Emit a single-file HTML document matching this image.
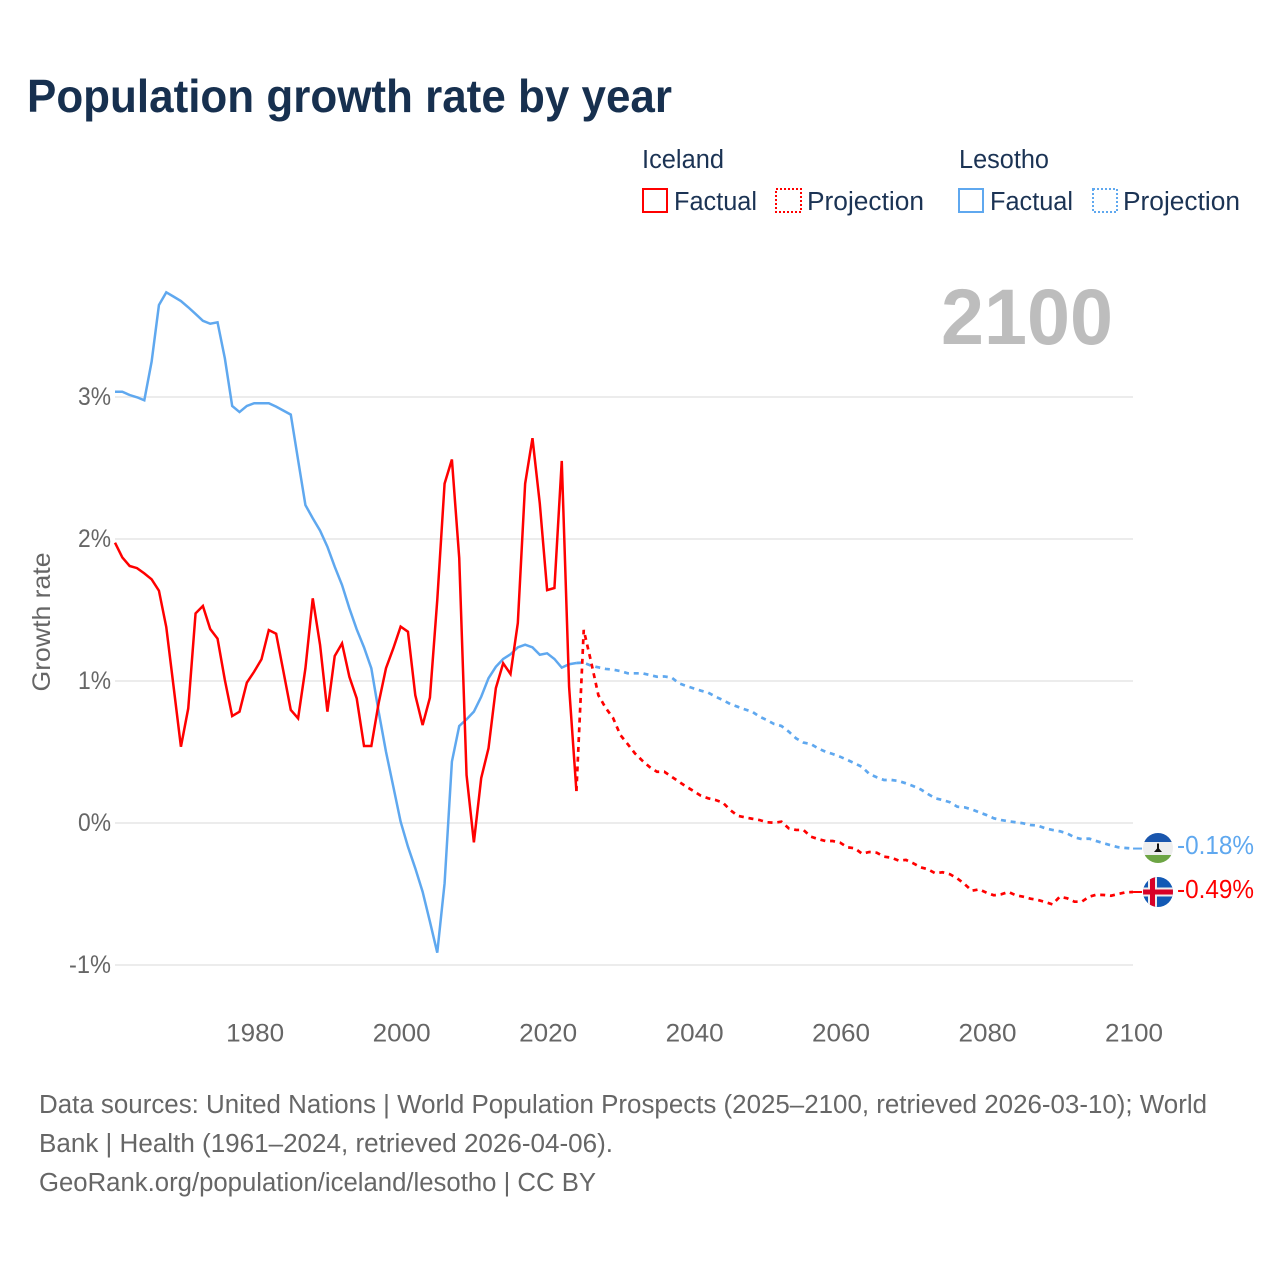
<!DOCTYPE html>
<html lang="en">
<head>
<meta charset="utf-8">
<title>Population growth rate by year</title>
<style>
html,body{margin:0;padding:0;background:#fff;}
svg{display:block;font-family:"Liberation Sans",sans-serif;}
</style>
</head>
<body>
<svg id="chart" xmlns="http://www.w3.org/2000/svg" width="1280" height="1280" viewBox="0 0 1280 1280">
  <defs>
    <clipPath id="flag-clip-lesotho"><circle cx="1158" cy="848" r="15"/></clipPath>
    <clipPath id="flag-clip-iceland"><circle cx="1158" cy="892" r="15"/></clipPath>
  </defs>
  <rect width="1280" height="1280" fill="#fff"/>
  <text x="27" y="112" font-size="46" font-weight="700" fill="#17304f" textLength="645" lengthAdjust="spacingAndGlyphs">Population growth rate by year</text>

  <g font-size="25.5" fill="#1b3354">
    <text x="642" y="168" textLength="82" lengthAdjust="spacingAndGlyphs">Iceland</text>
    <text x="959" y="168" textLength="90" lengthAdjust="spacingAndGlyphs">Lesotho</text>
    <rect x="643" y="189" width="24" height="23" fill="none" stroke="#ff0000" stroke-width="2"/>
    <text x="674" y="210" textLength="83" lengthAdjust="spacingAndGlyphs">Factual</text>
    <rect x="776" y="189" width="25" height="23" fill="none" stroke="#ff0000" stroke-width="2" stroke-dasharray="2 2"/>
    <text x="807" y="210" textLength="117" lengthAdjust="spacingAndGlyphs">Projection</text>
    <rect x="959" y="189" width="24" height="23" fill="none" stroke="#5fa8ef" stroke-width="2"/>
    <text x="990" y="210" textLength="83" lengthAdjust="spacingAndGlyphs">Factual</text>
    <rect x="1093" y="189" width="24" height="23" fill="none" stroke="#5fa8ef" stroke-width="2" stroke-dasharray="2 2"/>
    <text x="1123" y="210" textLength="117" lengthAdjust="spacingAndGlyphs">Projection</text>
  </g>

  <text x="1113" y="344" font-size="79" font-weight="700" fill="#bdbdbd" text-anchor="end" textLength="172" lengthAdjust="spacingAndGlyphs">2100</text>
  <text transform="translate(50,622) rotate(-90)" font-size="25" fill="#666" text-anchor="middle" textLength="139" lengthAdjust="spacingAndGlyphs">Growth rate</text>

  <g id="grid"></g>
  <g id="y-ticks" font-size="25" fill="#666" text-anchor="end"></g>
  <g id="x-ticks" font-size="25" fill="#666" text-anchor="middle"></g>
  <g id="series"></g>

  <g clip-path="url(#flag-clip-lesotho)">
    <rect x="1143" y="833" width="30" height="30" fill="#eeeeee"/>
    <rect x="1143" y="833" width="30" height="9" fill="#1a56ad"/>
    <rect x="1143" y="855" width="30" height="8" fill="#6da544"/>
    <path d="M1157 843.5h2v5l3 3.5h-8l3-3.5z" fill="#111"/>
  </g>
  <g clip-path="url(#flag-clip-iceland)">
    <rect x="1143" y="877" width="30" height="30" fill="#1259b5"/>
    <rect x="1148" y="877" width="9" height="30" fill="#eeeeee"/>
    <rect x="1143" y="887.5" width="30" height="9" fill="#eeeeee"/>
    <rect x="1150" y="877" width="5" height="30" fill="#d80027"/>
    <rect x="1143" y="889.5" width="30" height="5" fill="#d80027"/>
  </g>
  <text x="1177" y="854" font-size="25.5" fill="#5fa8ef" textLength="77" lengthAdjust="spacingAndGlyphs">-0.18%</text>
  <text x="1177" y="898" font-size="25.5" fill="#ff0000" textLength="77" lengthAdjust="spacingAndGlyphs">-0.49%</text>

  <g font-size="25.5" fill="#666">
    <text x="39" y="1113" textLength="1168" lengthAdjust="spacingAndGlyphs">Data sources: United Nations | World Population Prospects (2025–2100, retrieved 2026-03-10); World</text>
    <text x="39" y="1152" textLength="574" lengthAdjust="spacingAndGlyphs">Bank | Health (1961–2024, retrieved 2026-04-06).</text>
    <text x="39" y="1191" textLength="557" lengthAdjust="spacingAndGlyphs">GeoRank.org/population/iceland/lesotho | CC BY</text>
  </g>
</svg>
<script>
const factualStartYear = 1961;
const projectionStartYear = 2024;
const yTicks = [-1, 0, 1, 2, 3];
const yTickLabels = ["-1%", "0%", "1%", "2%", "3%"];
const xTicks = [1980, 2000, 2020, 2040, 2060, 2080, 2100];
const xTickLabels = ["1980", "2000", "2020", "2040", "2060", "2080", "2100"];

// Growth rate (%) per year, 1961-2024
const icelandFactual = [1.974,1.87,1.81,1.795,1.758,1.716,1.636,1.38,0.96,0.537,0.807,1.476,1.528,1.366,1.298,1.007,0.753,0.784,0.988,1.066,1.153,1.359,1.333,1.066,0.796,0.737,1.089,1.582,1.254,0.784,1.176,1.265,1.03,0.878,0.542,0.542,0.845,1.09,1.23,1.383,1.347,0.90,0.69,0.883,1.57,2.39,2.56,1.866,0.338,-0.136,0.316,0.527,0.95,1.125,1.049,1.408,2.39,2.71,2.25,1.64,1.655,2.55,0.96,0.225];
const lesothoFactual = [3.037,3.037,3.014,2.998,2.977,3.249,3.648,3.737,3.707,3.676,3.632,3.585,3.537,3.516,3.526,3.272,2.937,2.894,2.937,2.956,2.956,2.956,2.932,2.904,2.876,2.556,2.239,2.146,2.059,1.946,1.805,1.676,1.512,1.364,1.237,1.089,0.784,0.502,0.256,0.009,-0.167,-0.319,-0.484,-0.695,-0.913,-0.425,0.432,0.683,0.73,0.784,0.889,1.02,1.10,1.155,1.188,1.237,1.256,1.237,1.185,1.195,1.155,1.094,1.118,1.127];

// Growth rate (%) per year, 2024-2100
const icelandProjection = [0.225,1.36,1.136,0.90,0.81,0.74,0.62,0.556,0.49,0.439,0.394,0.361,0.361,0.326,0.291,0.256,0.225,0.192,0.174,0.162,0.143,0.092,0.051,0.04,0.03,0.021,0.005,0.002,0.009,-0.038,-0.049,-0.049,-0.096,-0.113,-0.127,-0.127,-0.138,-0.171,-0.178,-0.216,-0.204,-0.209,-0.237,-0.244,-0.265,-0.26,-0.284,-0.312,-0.326,-0.354,-0.347,-0.361,-0.39,-0.43,-0.477,-0.467,-0.491,-0.509,-0.502,-0.486,-0.509,-0.519,-0.533,-0.542,-0.556,-0.573,-0.519,-0.53,-0.554,-0.554,-0.519,-0.505,-0.507,-0.512,-0.5,-0.488,-0.486];
const lesothoProjection = [1.127,1.129,1.108,1.096,1.085,1.08,1.07,1.054,1.054,1.054,1.042,1.03,1.032,1.024,0.984,0.965,0.948,0.932,0.918,0.889,0.866,0.838,0.819,0.80,0.784,0.749,0.725,0.697,0.683,0.643,0.596,0.566,0.556,0.526,0.502,0.486,0.467,0.444,0.42,0.395,0.345,0.322,0.303,0.303,0.296,0.279,0.26,0.237,0.204,0.174,0.162,0.146,0.115,0.11,0.096,0.075,0.056,0.033,0.021,0.012,0.005,-0.002,-0.014,-0.018,-0.037,-0.049,-0.058,-0.073,-0.101,-0.113,-0.11,-0.127,-0.143,-0.157,-0.171,-0.176,-0.18];

const SVG_NS = 'http://www.w3.org/2000/svg';
const RED = '#ff0000';
const BLUE = '#5fa8ef';

function xScale(year) { return 115 + (year - 1961) * 7.324; }
function yScale(value) { return 823 - value * 142; }

function linePath(values, startYear) {
  return values.map(function (v, i) {
    return (i ? 'L' : 'M') + xScale(startYear + i).toFixed(2) + ' ' + yScale(v).toFixed(2);
  }).join('');
}

const gridGroup = document.getElementById('grid');
const yTickGroup = document.getElementById('y-ticks');
const xTickGroup = document.getElementById('x-ticks');
const seriesGroup = document.getElementById('series');

yTicks.forEach(function (tick, i) {
  const line = document.createElementNS(SVG_NS, 'line');
  
  
  line.setAttribute('x1', 115);
  line.setAttribute('x2', 1133);
  line.setAttribute('y1', yScale(tick));
  line.setAttribute('y2', yScale(tick));
  line.setAttribute('stroke', '#ececec');
  line.setAttribute('stroke-width', 2);
  gridGroup.appendChild(line);

  const label = document.createElementNS(SVG_NS, 'text');
  
  
  label.setAttribute('x', 111);
  label.setAttribute('y', yScale(tick) + 8);
  label.setAttribute('textLength', yTickLabels[i].length === 3 ? 42 : 33);
  label.setAttribute('lengthAdjust', 'spacingAndGlyphs');
  label.textContent = yTickLabels[i];
  yTickGroup.appendChild(label);
});

xTicks.forEach(function (tick, i) {
  const label = document.createElementNS(SVG_NS, 'text');
  
  
  label.setAttribute('x', xScale(tick) + 1);
  label.setAttribute('y', 1041.5);
  label.setAttribute('textLength', 58);
  label.setAttribute('lengthAdjust', 'spacingAndGlyphs');
  label.textContent = xTickLabels[i];
  xTickGroup.appendChild(label);
});

function drawLine(name, values, startYear, color, dashed) {
  const path = document.createElementNS(SVG_NS, 'path');
  
  
  path.setAttribute('d', linePath(values, startYear));
  path.setAttribute('fill', 'none');
  path.setAttribute('stroke', color);
  path.setAttribute('stroke-width', dashed ? 2.7 : 2.5);
  path.setAttribute('stroke-linejoin', 'miter');
  if (dashed) { path.setAttribute('stroke-dasharray', '5 4.8'); }
  seriesGroup.appendChild(path);
}

function drawConnector(name, values, startYear, color) {
  const lastValue = values[values.length - 1];
  const lastYear = startYear + values.length - 1;
  const line = document.createElementNS(SVG_NS, 'line');
  
  
  line.setAttribute('x1', xScale(lastYear));
  line.setAttribute('x2', xScale(lastYear) + 9);
  line.setAttribute('y1', yScale(lastValue));
  line.setAttribute('y2', yScale(lastValue));
  line.setAttribute('stroke', color);
  line.setAttribute('stroke-width', 2);
  seriesGroup.appendChild(line);
}

drawLine('lesotho-factual-line', lesothoFactual, factualStartYear, BLUE, false);
drawLine('iceland-factual-line', icelandFactual, factualStartYear, RED, false);
drawLine('lesotho-projection-line', lesothoProjection, projectionStartYear, BLUE, true);
drawLine('iceland-projection-line', icelandProjection, projectionStartYear, RED, true);
drawConnector('lesotho-end-connector', lesothoProjection, projectionStartYear, BLUE);
drawConnector('iceland-end-connector', icelandProjection, projectionStartYear, RED);
</script>
</body>
</html>
